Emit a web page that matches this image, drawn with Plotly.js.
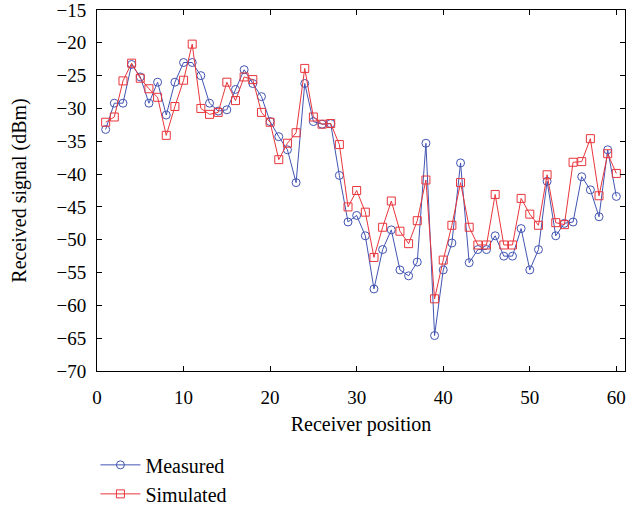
<!DOCTYPE html>
<html>
<head>
<meta charset="utf-8">
<script src="https://cdn.plot.ly/plotly-3.0.1.min.js"></script>
<style>html,body{margin:0;padding:0;background:#fff;}#chart{width:627px;height:506px;}</style>
</head>
<body>
<div id="chart"></div>
<script>
const positions = [1,2,3,4,5,6,7,8,9,10,11,12,13,14,15,16,17,18,19,20,
  21,22,23,24,25,26,27,28,29,30,31,32,33,34,35,36,37,38,39,40,
  41,42,43,44,45,46,47,48,49,50,51,52,53,54,55,56,57,58,59,60];

const measured = [-33.2,-29.2,-29.2,-23.3,-25.2,-29.2,-26,-31,-26,-23,
  -23,-25,-29.2,-30.4,-30.2,-27.1,-24.1,-26.2,-28.2,-32,
  -34.3,-36.3,-41.3,-26.2,-32,-32.4,-32.3,-40.2,-47.3,-46.3,
  -49.4,-57.5,-51.5,-48.5,-54.6,-55.5,-53.4,-35.3,-64.6,-54.6,
  -50.5,-38.3,-53.5,-51.5,-51.5,-49.4,-52.5,-52.5,-48.3,-54.6,
  -51.5,-41.1,-49.4,-47.5,-47.3,-40.4,-42.4,-46.5,-36.3,-43.4];

const simulated = [-32.1,-31.3,-25.8,-23.1,-25.4,-27,-28.3,-34.1,-29.7,-25.7,
  -20.2,-30,-30.9,-30.6,-26,-28.8,-25.2,-25.6,-30.6,-32.1,
  -37.8,-35.3,-33.7,-23.9,-31.3,-32.4,-32.3,-35.5,-45,-42.5,
  -45.8,-52.7,-48.1,-44.1,-48.7,-50.6,-47.1,-40.9,-59,-53.1,
  -47.8,-41.3,-48.1,-50.8,-50.8,-43.1,-50.8,-50.8,-43.7,-46.1,
  -47.8,-40.1,-47.4,-47.7,-38.2,-38.1,-34.6,-43.3,-36.9,-39.9];

const seriesNames = ['Measured', 'Simulated'];

const serif = 'Liberation Serif, Times New Roman, serif';

const traces = [
  {
    x: positions, y: measured, name: seriesNames[0],
    type: 'scatter', mode: 'lines+markers',
    line: {color: '#4254b2', width: 1},
    marker: {symbol: 'circle-open', size: 8, color: '#4254b2', line: {width: 1}}
  },
  {
    x: positions, y: simulated, name: seriesNames[1],
    type: 'scatter', mode: 'lines+markers',
    line: {color: '#e8363c', width: 1},
    marker: {symbol: 'square-open', size: 8, color: '#e8363c', line: {width: 1}}
  }
];

const axisCommon = {
  showgrid: false, zeroline: false,
  showline: true, linecolor: '#000', linewidth: 1, mirror: 'ticks',
  ticks: 'inside', ticklen: 5, tickcolor: '#000', tickwidth: 1,
  ticklabeloverflow: 'allow',
  tickfont: {family: serif, size: 19, color: '#000'}
};

const layout = {
  width: 627, height: 506,
  margin: {l: 97, r: 2, t: 10, b: 135, autoexpand: false},
  paper_bgcolor: '#fff', plot_bgcolor: '#fff',
  font: {family: serif, color: '#000'},
  xaxis: Object.assign({}, axisCommon, {
    range: [0, 61], tick0: 0, dtick: 10, ticklabelstandoff: 9,
    title: {text: 'Receiver position', font: {family: serif, size: 20, color: '#000'}, standoff: 10}
  }),
  yaxis: Object.assign({}, axisCommon, {
    range: [-70, -15], tick0: -70, dtick: 5, ticklabelstandoff: 6,
    title: {text: 'Received signal (dBm)', font: {family: serif, size: 20, color: '#000'}, standoff: 24}
  }),
  showlegend: true,
  legend: {
    x: -0.003, xanchor: 'left', y: -0.206, yanchor: 'top',
    orientation: 'v', bgcolor: 'rgba(0,0,0,0)',
    font: {family: serif, size: 20, color: '#000'},
    tracegroupgap: 0, itemwidth: 40
  }
};

Plotly.newPlot('chart', traces, layout, {displayModeBar: false, staticPlot: true});
</script>
</body>
</html>
